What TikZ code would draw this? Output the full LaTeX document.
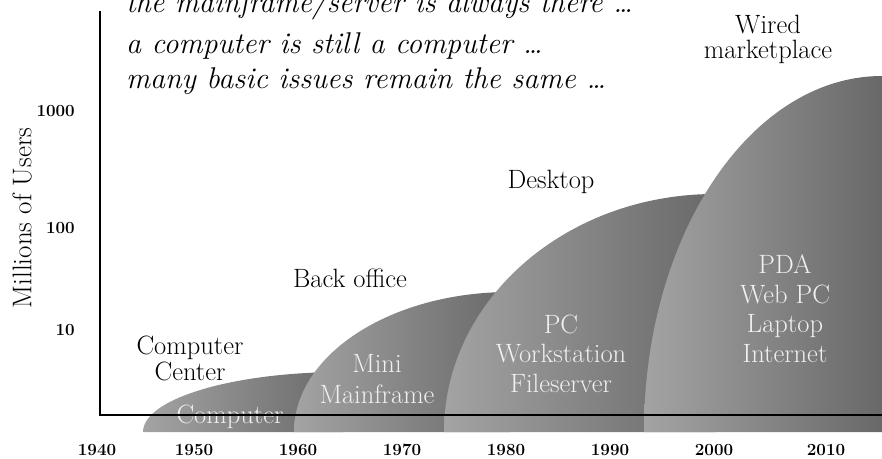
\documentclass[tikz,border=0pt]{standalone}
\usepackage{tikz}

\definecolor{humplight}{gray}{0.64}
\definecolor{humpdark}{gray}{0.41}
\definecolor{humptext}{gray}{0.94}

\begin{document}
\begin{tikzpicture}[x=1pt, y=-1pt, inner sep=0pt,
era_style/.style={align=center, anchor=base, font=\fontsize{26.5}{25}\selectfont},
inner_style/.style={align=center, anchor=base, text=humptext, font=\fontsize{26.5}{29.5}\selectfont},
tick_style/.style={font=\fontsize{17}{17}\selectfont\bfseries},
hump_style/.style={left color=humplight, right color=humpdark},
axis_style/.style={draw=black, line width=2.6pt}]
\useasboundingbox (0,0) rectangle (882,458);

% the four eras, each a quarter ellipse
\shade[hump_style] (143,432) .. controls (143,398.9) and (232.5,372) .. (343,372) -- (343,432) -- cycle;
\shade[hump_style] (294,432) .. controls (294,354.7) and (390.7,292) .. (510,292) -- (510,432) -- cycle;
\shade[hump_style] (444,432) .. controls (444,300.6) and (565.3,194) .. (715,194) -- (715,432) -- cycle;
\shade[hump_style] (644,432) .. controls (644,235.4) and (750.6,76) .. (882,76) -- (882,432) -- cycle;

\node[inner_style] (comp_in) at (230,423) {Computer};
\node[inner_style, font=\fontsize{26.5}{31}\selectfont] (mini_in) at (377,403) {Mini\\Mainframe};
\node[inner_style] (pc_in) at (561,392) {PC\\Workstation\\Fileserver};
\node[inner_style] (pda_in) at (785,362) {PDA\\Web PC\\Laptop\\Internet};

% axes
\coordinate (ytop) at (100,11);
\coordinate (origin) at (100,415);
\coordinate (xend) at (882,415);
\draw[axis_style] (ytop) -- (origin) -- (xend);

\node[era_style, font=\fontsize{26.5}{26}\selectfont] (comp_center) at (190,380) {Computer\\Center};
\node[era_style] (back_office) at (350,287) {Back office};
\node[era_style] (desktop) at (551,188) {Desktop};
\node[era_style] (wired) at (768,58) {Wired\\marketplace};

\node[align=left, anchor=base west, font=\fontsize{30}{35}\selectfont\itshape] (motto) at (126,88)
  {the mainframe/server is always there \ldots\\[6pt]
   a computer is still a computer \ldots\\
   many basic issues remain the same \ldots};

\node[rotate=90, font=\fontsize{27}{27}\selectfont] (y_label) at (22,218) {Millions of Users};
\foreach \val/\ypos in {1000/111, 100/228, 10/330}
  \node[tick_style, anchor=east] (y\val) at (75,\ypos) {\val};
\foreach \yr/\xpos in {1940/97, 1950/194, 1960/298, 1970/402, 1980/506, 1990/610, 2000/714, 2010/826}
  \node[tick_style] (yr\yr) at (\xpos,450) {\yr};
\end{tikzpicture}
\end{document}
